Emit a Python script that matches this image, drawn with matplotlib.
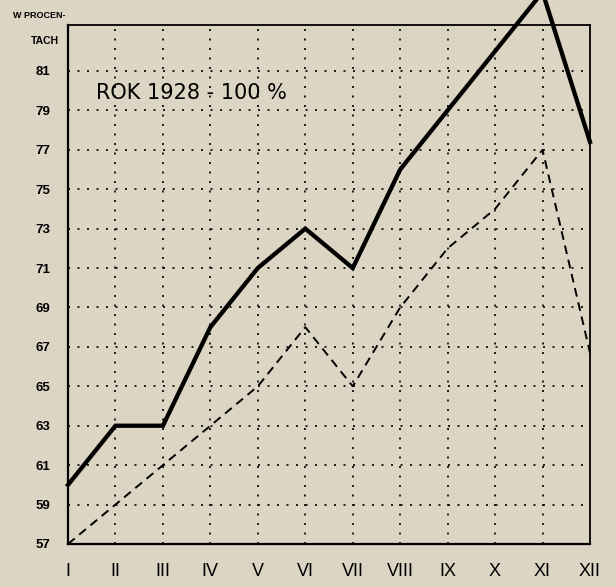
import matplotlib
matplotlib.use("Agg")
import matplotlib.pyplot as plt

months = ["I", "II", "III", "IV", "V", "VI", "VII", "VIII", "IX", "X", "XI", "XII"]
solid_values = [60, 63, 63, 68, 71, 73, 71, 76, 79, 82, 85, 77.4]
dashed_values = [57, 59, 61, 63, 65, 68, 65, 69, 72, 74, 77, 66.7]
y_ticks = [57, 59, 61, 63, 65, 67, 69, 71, 73, 75, 77, 79, 81]

bg = "#dcd5c3"
fig = plt.figure(figsize=(6.16, 5.87), dpi=100, facecolor=bg)
ax = fig.add_axes([68/616, 1-544/587, (590-68)/616, (544-25)/587])
ax.set_facecolor(bg)

x = list(range(len(months)))
ax.set_xlim(0, 11)
ax.set_ylim(57, 83.33)

for yv in y_ticks[1:]:
    ax.axhline(yv, color="black", lw=1.2, ls=(0, (1.2, 4.5)), zorder=1)
for xv in x[1:-1]:
    ax.axvline(xv, color="black", lw=1.2, ls=(0, (1.2, 4.5)), zorder=1)

ax.plot(x, solid_values, color="black", lw=3.1, solid_joinstyle="miter", clip_on=False, zorder=3)
ax.plot(x, dashed_values, color="black", lw=1.4, ls=(0, (4.5, 3)), clip_on=False, zorder=3)

for s in ["left", "bottom"]:
    ax.spines[s].set_linewidth(1.6)
for s in ["top", "right"]:
    ax.spines[s].set_linewidth(1.3)

sans = ["Liberation Sans", "DejaVu Sans"]
ax.set_yticks(y_ticks)
ax.set_yticklabels([str(v) for v in y_ticks], fontsize=9.5, fontweight="bold", family=sans)
ax.set_xticks(x)
ax.set_xticklabels(months, fontsize=13, family=sans)
ax.tick_params(axis="y", length=0, pad=13)
ax.tick_params(axis="x", length=0, pad=14)

fig.text(13/616, 1-15/587, "W PROCEN-", fontsize=6.5, fontweight="bold", family=sans, va="center", ha="left")
fig.text(45/616, 1-41/587, "TACH", fontsize=7.5, fontweight="bold", family=sans, va="center", ha="center")

ax.text(0.58, 79.9, "ROK 1928 - 100 %", fontsize=15, family=["DejaVu Sans"], va="center", ha="left")

fig.savefig("out.png", dpi=100, facecolor=bg)
